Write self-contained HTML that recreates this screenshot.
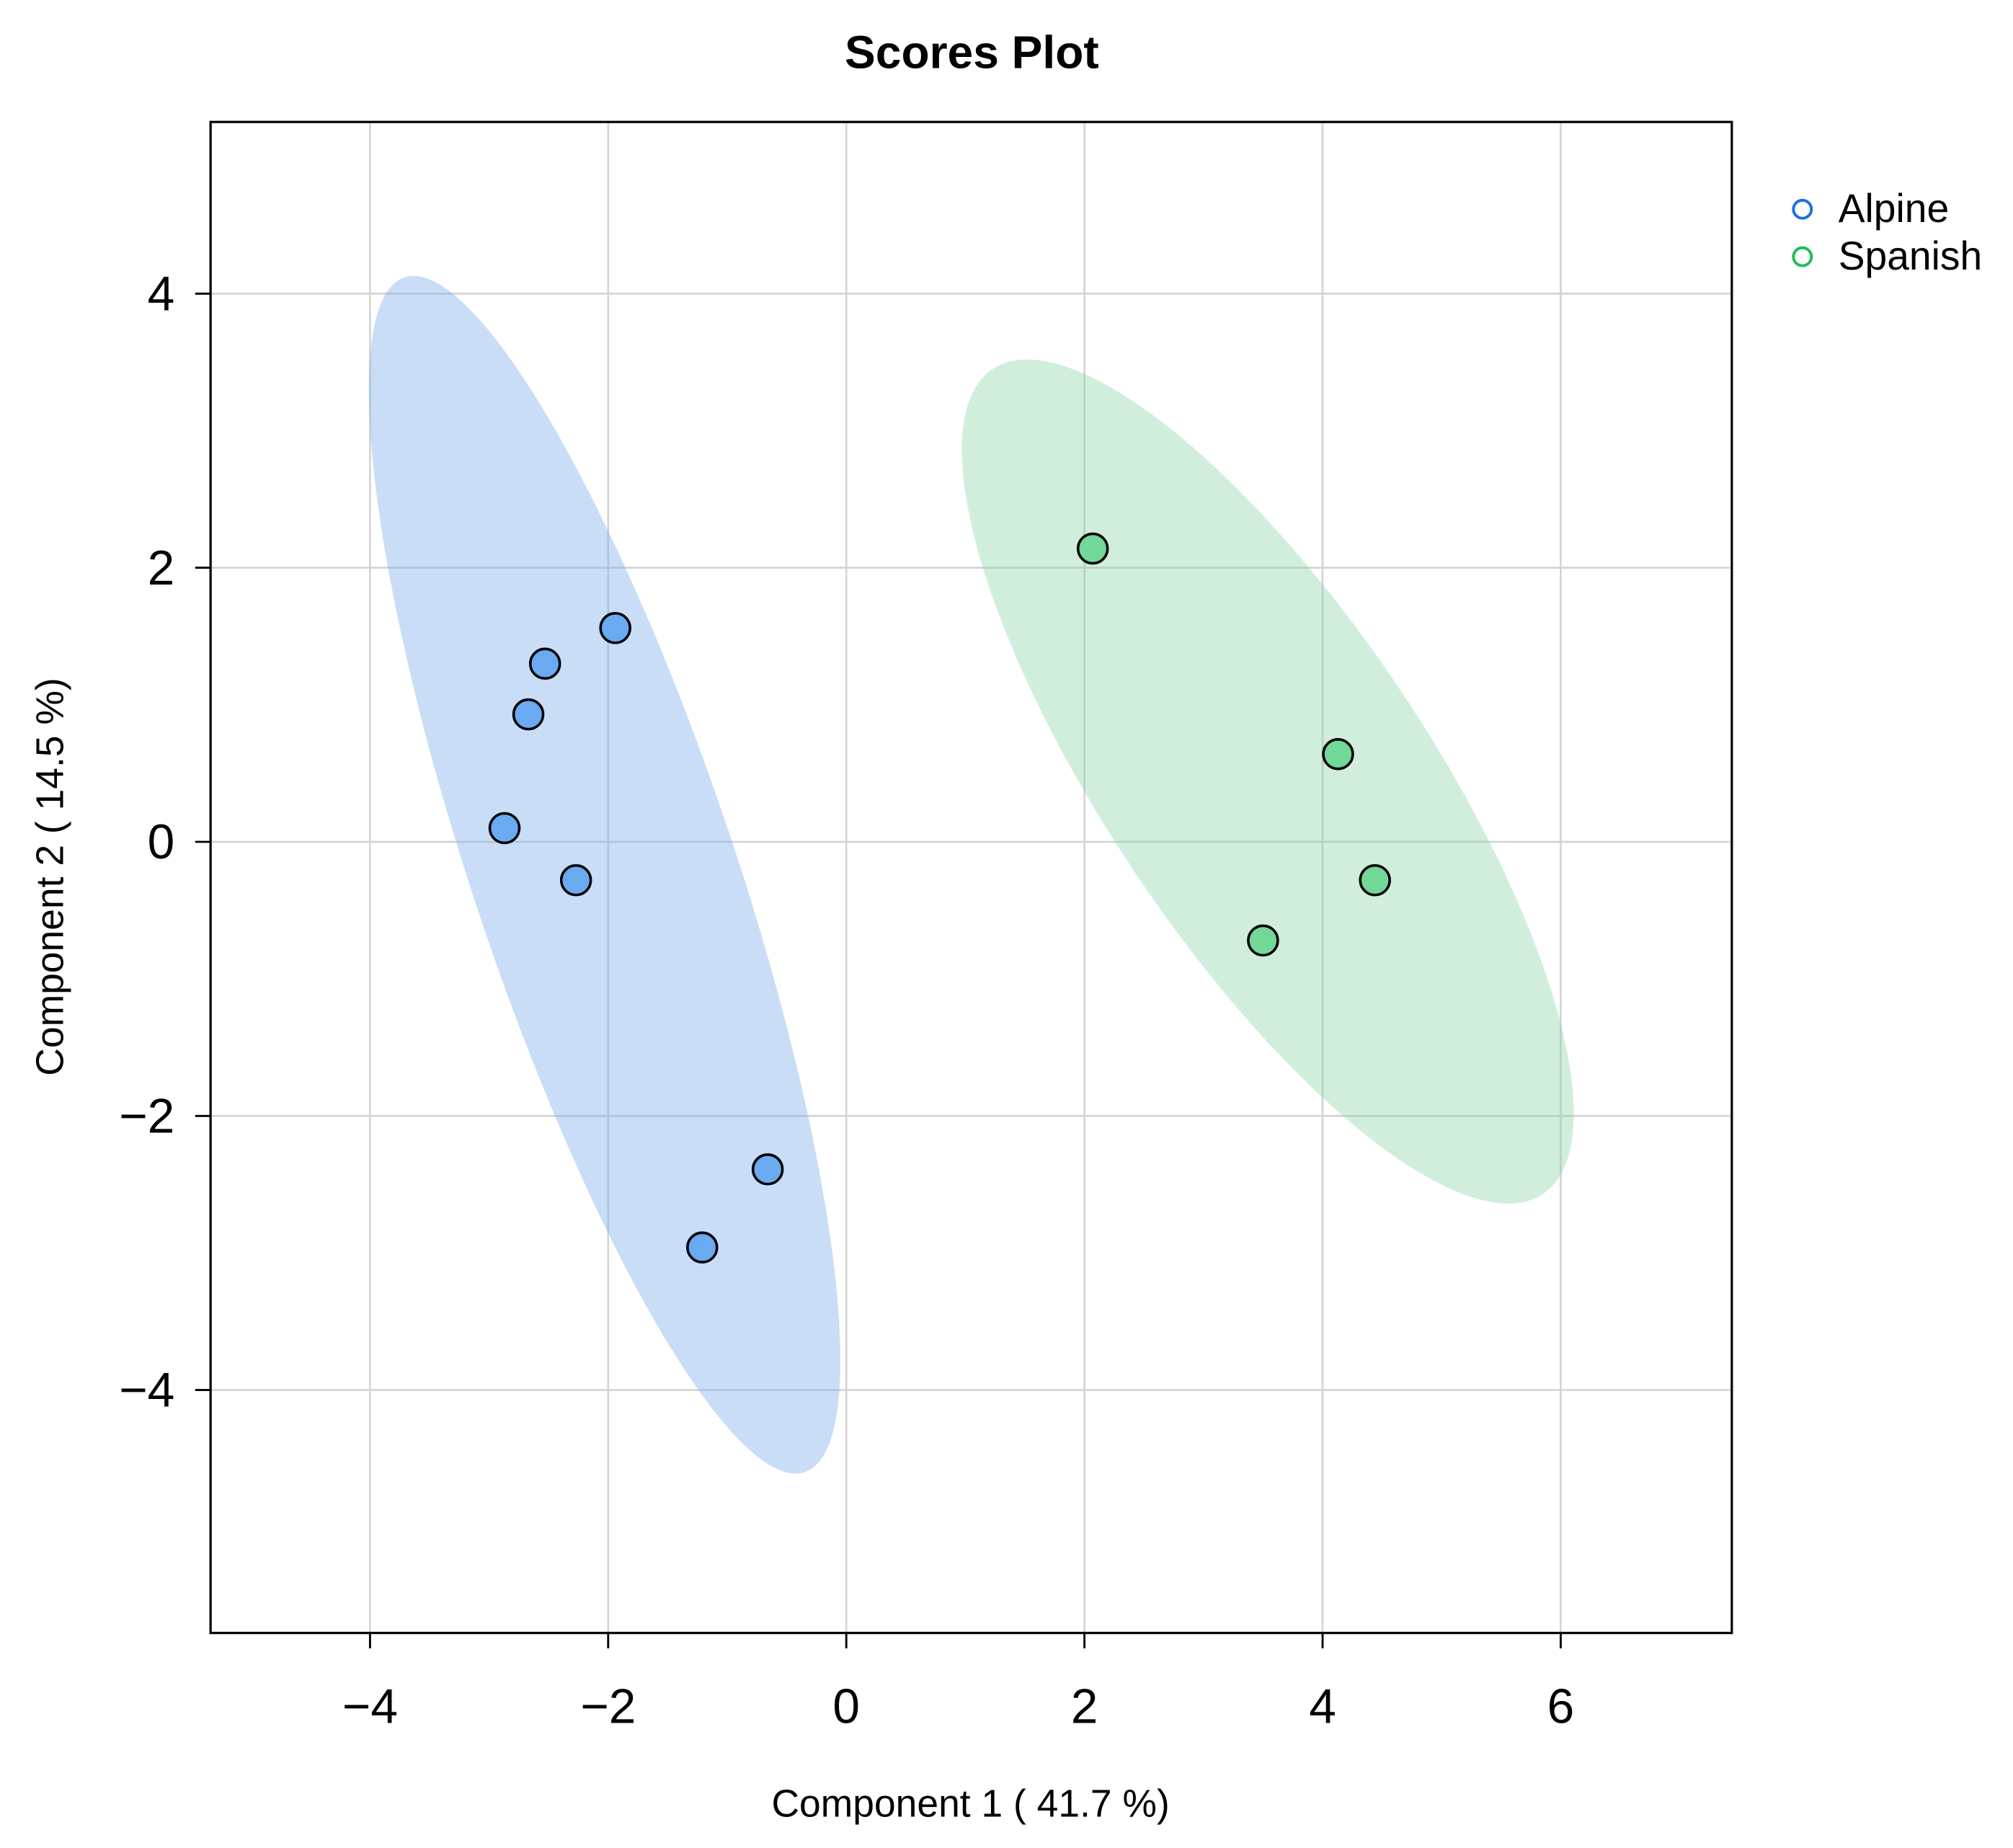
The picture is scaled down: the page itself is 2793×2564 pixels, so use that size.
<!DOCTYPE html>
<html><head><meta charset="utf-8"><style>
html,body{margin:0;padding:0;background:#fff}
svg{display:block;font-family:"Liberation Sans",sans-serif}
</style></head><body>
<svg id="c" width="2793" height="2564" viewBox="0 0 1568 1439.5" xmlns="http://www.w3.org/2000/svg">
<rect width="1568" height="1440" fill="#fff"/>
<text x="757" y="53" text-anchor="middle" font-size="36" font-weight="bold">Scores Plot</text>
<g id="grid"></g>
<g id="ell"></g>
<g id="pts"></g>
<rect x="164" y="95" width="1185" height="1177" fill="none" stroke="#000" stroke-width="1.8"/>
<g id="ticks"></g>
<text x="756" y="1415" text-anchor="middle" font-size="30">Component 1 ( 41.7 %)</text>
<text transform="translate(49,683) rotate(-90)" text-anchor="middle" font-size="30">Component 2 ( 14.5 %)</text>
<g>
<circle cx="1404" cy="163" r="7" fill="none" stroke="#1e6fe6" stroke-width="2.2"/>
<text x="1432" y="173" font-size="31">Alpine</text>
<circle cx="1404" cy="200" r="7" fill="none" stroke="#22bb55" stroke-width="2.2"/>
<text x="1432" y="210" font-size="31">Spanish</text>
</g>
</svg>
<script>
const xTicks=[-4,-2,0,2,4,6];
const yTicks=[-4,-2,0,2,4];
const alpineX=[-1.94,-2.53,-2.67,-2.87,-2.27,-0.66,-1.21];
const alpineY=[1.56,1.30,0.93,0.10,-0.28,-2.39,-2.96];
const spanishX=[2.07,4.13,4.44,3.50];
const spanishY=[2.14,0.64,-0.28,-0.72];
const ellCx=[-2.03,3.54];
const ellCy=[-0.24,0.44];
const ellSx=[1.98,2.57];
const ellSy=[4.37,3.08];
const ellRho=[-0.81,-0.786];
const groupNames=['alpine','spanish'];
const X0=164,X1=1349,Y0=95,Y1=1272,xmin=-5.339,xmax=7.437,ymin=-5.773,ymax=5.253;
const sx=v=>X0+(v-xmin)/(xmax-xmin)*(X1-X0);
const sy=v=>Y1-(v-ymin)/(ymax-ymin)*(Y1-Y0);
const NS='http://www.w3.org/2000/svg';
function mk(tag,attrs,parent){const e=document.createElementNS(NS,tag);for(const k in attrs)e.setAttribute(k,attrs[k]);document.getElementById(parent).appendChild(e);return e;}
xTicks.forEach(t=>{
 const g=mk('line',{x1:sx(t),x2:sx(t),y1:Y0,y2:Y1,stroke:'#d4d4d4','stroke-width':1.5},'grid');
 
 
 const k=mk('line',{x1:sx(t),x2:sx(t),y1:Y1,y2:Y1+12,stroke:'#000','stroke-width':1.6},'ticks');
 
 
 const l=mk('text',{x:sx(t),y:Y1+70,'text-anchor':'middle','font-size':'38'},'ticks');
 l.textContent=t<0?'\u2212'+(-t):String(t);
 
 
});
yTicks.forEach(t=>{
 const g=mk('line',{x1:X0,x2:X1,y1:sy(t),y2:sy(t),stroke:'#d4d4d4','stroke-width':1.5},'grid');
 
 
 const k=mk('line',{x1:X0-12,x2:X0,y1:sy(t),y2:sy(t),stroke:'#000','stroke-width':1.6},'ticks');
 
 
 const l=mk('text',{x:X0-28,y:sy(t)+13,'text-anchor':'end','font-size':'38'},'ticks');
 l.textContent=t<0?'\u2212'+(-t):String(t);
 
 
});
const fills=['rgba(120,170,235,0.4)','rgba(130,210,160,0.37)'];
ellCx.forEach((cx,i)=>{
 const a=ellSx[i],b=ellSy[i],r=ellRho[i];let p=[];
 for(let k=0;k<=180;k++){const t=k/180*2*Math.PI;
  const x=cx+a*Math.cos(t), y=ellCy[i]+b*(r*Math.cos(t)+Math.sqrt(1-r*r)*Math.sin(t));
  p.push(sx(x).toFixed(1)+','+sy(y).toFixed(1));}
 const e=mk('polygon',{points:p.join(' '),fill:fills[i]},'ell');
 
 
});
alpineX.forEach((x,i)=>{
 const c=mk('circle',{cx:sx(x),cy:sy(alpineY[i]),r:11.5,fill:'#6aaaf0',stroke:'#000','stroke-width':2},'pts');
 
 
});
spanishX.forEach((x,i)=>{
 const c=mk('circle',{cx:sx(x),cy:sy(spanishY[i]),r:11.5,fill:'#72d898',stroke:'#000','stroke-width':2},'pts');
 
 
});
</script>
</body></html>
